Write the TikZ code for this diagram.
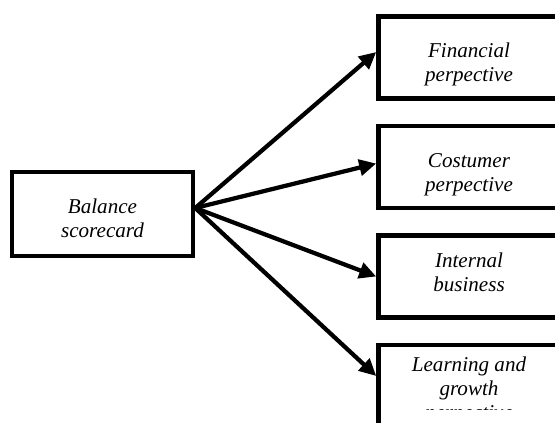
\documentclass[tikz,border=0pt]{standalone}
\usepackage{fontspec}
\setmainfont{Liberation Serif}
\usepackage{tikz}
\usetikzlibrary{arrows.meta, positioning}

\begin{document}
\begin{tikzpicture}[
    node distance = 0.46cm,
    box/.style = {
      rectangle, draw = black, line width = 0.09cm,
      minimum width = 3.62cm, minimum height = 1.64cm
    },
    txt/.style = {
      inner sep = 0pt, align = center,
      font = \itshape\fontsize{12}{13.7}\selectfont
    },
    arr/.style = {-{Triangle[length=0.34cm, width=0.32cm]}, line width = 0.085cm}
  ]
    \useasboundingbox (0,0) rectangle (11.1,-8.46);
    \clip (0,0) rectangle (11.1,-8.46);

    % -- Boxes ---------------------------------------------------------------
    \node[box, minimum height = 1.68cm] (bsc) at (2.05,-4.28) {};
    \node[box] (fin) at (9.38,-1.15) {};
    \node[box, below = of fin] (cus) {};
    \node[box, below = of cus] (ibp) {};
    \node[box, below = of ibp] (lgp) {};

    % -- Texts ---------------------------------------------------------------
    \node[txt, below = 0.57cm of bsc.north] (bsctxt) {Balance\\scorecard};
    \node[txt, below = 0.57cm of fin.north] (fintxt) {Financial\\perpective};
    \node[txt, below = 0.58cm of cus.north] (custxt) {Costumer\\perpective};
    \begin{scope}
      \clip (ibp.north west) rectangle ([yshift=0.3cm]ibp.south east);
      \node[txt, below = 0.39cm of ibp.north] (ibptxt) {Internal\\business\\process};
    \end{scope}
    \begin{scope}
      \clip (lgp.north west) rectangle ([yshift=0.4cm]lgp.south east);
      \node[txt, below = 0.27cm of lgp.north] (lgptxt) {Learning and\\growth\\perpective};
    \end{scope}

    % -- Arrows --------------------------------------------------------------
    \coordinate (hub) at ([yshift=0.12cm]bsc.east);
    \draw[arr] (hub) -- ([yshift=0.11cm]fin.west);
    \draw[arr] (hub) -- ([yshift=0.07cm]cus.west);
    \draw[arr] (hub) -- (ibp.west);
    \draw[arr] (hub) -- ([yshift=0.2cm]lgp.west);
\end{tikzpicture}
\end{document}
